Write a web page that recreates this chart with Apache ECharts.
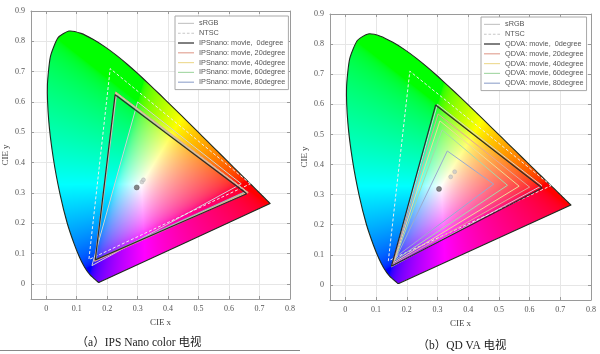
<!DOCTYPE html>
<html>
<head>
<meta charset="utf-8">
<script src="https://cdn.jsdelivr.net/npm/echarts@6/dist/echarts.min.js"></script>
<style>
html,body{margin:0;padding:0;background:#fff;}
#main{width:600px;height:354px;}
</style>
</head>
<body>
<div id="main"></div>
<script>
// CIE 1931 spectral locus (380..700 nm)
var locusX = [0.1741,0.1740,0.1738,0.1736,0.1733,0.1730,0.1726,0.1721,0.1714,0.1703,0.1689,0.1669,0.1644,0.1611,0.1566,0.1510,0.1440,0.1355,0.1241,0.1096,0.0913,0.0687,0.0454,0.0235,0.0082,0.0039,0.0139,0.0389,0.0743,0.1142,0.1547,0.1929,0.2296,0.2658,0.3016,0.3373,0.3731,0.4087,0.4441,0.4788,0.5125,0.5448,0.5752,0.6029,0.6270,0.6482,0.6658,0.6801,0.6915,0.7006,0.7079,0.7140,0.7190,0.7230,0.7260,0.7300,0.7320,0.7334,0.7347];
var locusY = [0.0050,0.0050,0.0049,0.0049,0.0048,0.0048,0.0048,0.0048,0.0051,0.0058,0.0069,0.0086,0.0109,0.0138,0.0177,0.0227,0.0297,0.0399,0.0578,0.0868,0.1327,0.2007,0.2950,0.4127,0.5384,0.6548,0.7502,0.8120,0.8338,0.8262,0.8059,0.7816,0.7543,0.7243,0.6923,0.6589,0.6245,0.5896,0.5547,0.5202,0.4866,0.4544,0.4242,0.3965,0.3725,0.3514,0.3340,0.3197,0.3083,0.2993,0.2920,0.2859,0.2809,0.2770,0.2740,0.2700,0.2680,0.2666,0.2653];

var srgbTri = [[0.64,0.33],[0.30,0.60],[0.15,0.06]];
var ntscTri = [[0.67,0.33],[0.21,0.71],[0.14,0.08]];

// IPS Nano color panel
var ips0  = [[0.658,0.297],[0.226,0.624],[0.161,0.079]];
var ips20 = [[0.663,0.301],[0.228,0.633],[0.159,0.074]];
var ips40 = [[0.661,0.302],[0.229,0.630],[0.160,0.076]];
var ips60 = [[0.658,0.304],[0.230,0.628],[0.161,0.077]];
var ips80 = [[0.655,0.305],[0.231,0.625],[0.163,0.080]];
var ipsWhite = [[0.297,0.318]];
var ipsWhiteOther = [[0.314,0.336],[0.319,0.343]];

// QD VA panel
var qd0  = [[0.641,0.322],[0.294,0.598],[0.150,0.062]];
var qd20 = [[0.600,0.325],[0.302,0.568],[0.154,0.068]];
var qd40 = [[0.566,0.328],[0.308,0.545],[0.157,0.074]];
var qd60 = [[0.528,0.331],[0.315,0.515],[0.161,0.082]];
var qd80 = [[0.483,0.335],[0.332,0.445],[0.168,0.096]];
var qdWhite = [[0.305,0.319]];
var qdWhiteOther = [[0.343,0.359],[0.356,0.376]];

var angleNames = [' 0degree','20degree','40degree','60degree','80degree'];
var angleColors = ['#2b2b2b','#e3a597','#eedc98','#a9d9a9','#9aaad0'];

var myChart;

function closeTri(t)
{
	return t.concat([t[0]]);
}

function gammaC(v)
{
	return v <= 0.0031308 ? 12.92 * v : 1.055 * Math.pow(v, 1 / 2.4) - 0.055;
}

function xyToRgb(x, y)
{
	if (y < 0.001) y = 0.001;
	var X = x / y, Y = 1, Z = (1 - x - y) / y;
	var r = 3.2406 * X - 1.5372 * Y - 0.4986 * Z;
	var g = -0.9689 * X + 1.8758 * Y + 0.0415 * Z;
	var b = 0.0557 * X - 0.2040 * Y + 1.0570 * Z;
	r = Math.max(r, 0); g = Math.max(g, 0); b = Math.max(b, 0);
	var m = Math.max(r, g, b) || 1;
	return [gammaC(r / m) * 255, gammaC(g / m) * 255, gammaC(b / m) * 255];
}

// colour texture the size of the chart, filled only inside the locus box
function renderLocus(params, api)
{
	var pts = [];
	var minX = 1e9, minY = 1e9, maxX = -1e9, maxY = -1e9;
	for (var i = 0; i < locusX.length; i++) {
		var p = api.coord([locusX[i], locusY[i]]);
		pts.push(p);
		minX = Math.min(minX, p[0]); maxX = Math.max(maxX, p[0]);
		minY = Math.min(minY, p[1]); maxY = Math.max(maxY, p[1]);
	}
	minX = Math.max(0, Math.floor(minX) - 2); minY = Math.max(0, Math.floor(minY) - 2);
	maxX = Math.ceil(maxX) + 2; maxY = Math.ceil(maxY) + 2;
	var W = api.getWidth(), H = api.getHeight();
	var o = api.coord([0, 0]), u = api.coord([1, 1]);
	var cv = document.createElement('canvas');
	cv.width = W; cv.height = H;
	var ctx = cv.getContext('2d');
	var img = ctx.createImageData(W, H);
	for (var py = minY; py < Math.min(H, maxY); py++) {
		for (var px = minX; px < Math.min(W, maxX); px++) {
			var dx = (px + 0.5 - o[0]) / (u[0] - o[0]);
			var dy = (py + 0.5 - o[1]) / (u[1] - o[1]);
			var c = xyToRgb(dx, dy);
			var k = (py * W + px) * 4;
			img.data[k] = c[0]; img.data[k + 1] = c[1]; img.data[k + 2] = c[2]; img.data[k + 3] = 255;
		}
	}
	ctx.putImageData(img, 0, 0);
	return {
		type: 'polygon',
		shape: {points: pts, smooth: 0.2},
		style: {fill: {image: cv, repeat: 'no-repeat'}, stroke: '#1f2a1f', lineWidth: 1.1}
	};
}

function tickFmt(v)
{
	if (v < -0.001) return '';
	return String(+v.toFixed(1));
}

var labelStyle = {color: '#555', fontFamily: 'Liberation Serif', fontSize: 8};
var nameStyle = {color: '#444', fontFamily: 'Liberation Serif', fontSize: 9};

function mainX(gi)
{
	return {
		gridIndex: gi, type: 'value', min: -0.05, max: 0.8, splitNumber: 9, minInterval: 0.1, maxInterval: 0.1,
		name: 'CIE x', nameLocation: 'middle', nameGap: 19, nameTextStyle: nameStyle,
		axisLine: {onZero: false, lineStyle: {color: '#9a9a9a'}},
		axisTick: {inside: true, length: 3, lineStyle: {color: '#9a9a9a'}},
		axisLabel: Object.assign({formatter: tickFmt, margin: 6}, labelStyle),
		splitLine: {lineStyle: {color: '#e6e6e6'}}
	};
}
function mainY(gi)
{
	return {
		gridIndex: gi, type: 'value', min: -0.05, max: 0.9, splitNumber: 10, minInterval: 0.1, maxInterval: 0.1,
		name: 'CIE y', nameLocation: 'middle', nameGap: 21, nameTextStyle: nameStyle,
		axisLine: {onZero: false, lineStyle: {color: '#9a9a9a'}},
		axisTick: {inside: true, length: 3, lineStyle: {color: '#9a9a9a'}},
		axisLabel: Object.assign({formatter: tickFmt, margin: 6}, labelStyle),
		splitLine: {lineStyle: {color: '#e6e6e6'}}
	};
}
function boxX(gi)
{
	return {
		gridIndex: gi, type: 'value', position: 'top', min: -0.05, max: 0.8, splitNumber: 9, minInterval: 0.1, maxInterval: 0.1,
		axisLine: {onZero: false, lineStyle: {color: '#9a9a9a'}},
		axisTick: {inside: true, length: 3, lineStyle: {color: '#9a9a9a'}},
		axisLabel: {show: false}, splitLine: {show: false}
	};
}
function boxY(gi)
{
	return {
		gridIndex: gi, type: 'value', position: 'right', min: -0.05, max: 0.9, splitNumber: 10, minInterval: 0.1, maxInterval: 0.1,
		axisLine: {onZero: false, lineStyle: {color: '#9a9a9a'}},
		axisTick: {inside: true, length: 3, lineStyle: {color: '#9a9a9a'}},
		axisLabel: {show: false}, splitLine: {show: false}
	};
}

function triLine(name, tri, axis, color, width, dashed, z)
{
	return {
		name: name, type: 'line', xAxisIndex: axis, yAxisIndex: axis,
		data: closeTri(tri), symbol: 'none', silent: true, z: z || 3,
		lineStyle: {color: color, width: width, type: dashed ? [3, 2] : 'solid'},
		itemStyle: {color: color}
	};
}

function panelSeries(axis, prefix, tris, white, whiteOther)
{
	var s = [];
	s.push({type: 'custom', xAxisIndex: axis, yAxisIndex: axis, data: [[0, 0]], renderItem: renderLocus, silent: true, z: 1});
	s.push(triLine('sRGB', srgbTri, axis, '#d2d2d2', 1, false, 2));
	s.push(triLine('NTSC', ntscTri, axis, '#eeeeee', 1, true, 2));
	for (var i = tris.length - 1; i >= 0; i--) {
		s.push(triLine(prefix + angleNames[i], tris[i], axis, angleColors[i], i == 0 ? 1.2 : 1, false, i == 0 ? 5 : 3));
	}
	s.push({type: 'scatter', xAxisIndex: axis, yAxisIndex: axis, data: whiteOther, symbolSize: 4, silent: true, z: 6,
		itemStyle: {color: '#c9c9c9', borderColor: '#aaa', borderWidth: 0.5}});
	s.push({type: 'scatter', xAxisIndex: axis, yAxisIndex: axis, data: white, symbolSize: 5, silent: true, z: 6,
		itemStyle: {color: '#6a6a6a', borderColor: '#444', borderWidth: 0.5}});
	return s;
}

var dashIcon = 'path://M0,0h3v1h-3zM5,0h3v1h-3zM10,0h3v1h-3zM15,0h3v1h-3z';

function legendFor(prefix, left, top)
{
	var names = [
		{name: 'sRGB', icon: 'rect', itemStyle: {color: '#c8c8c8'}},
		{name: 'NTSC', icon: dashIcon, itemStyle: {color: '#c8c8c8'}}
	];
	for (var i = 0; i < angleNames.length; i++) names.push({name: prefix + angleNames[i], icon: 'rect'});
	return {
		data: names, orient: 'vertical', left: left, top: top,
		itemWidth: 16, itemHeight: 1.2, itemGap: 1, padding: [3, 3, 3, 3],
		borderColor: '#a8a8a8', borderWidth: 1, backgroundColor: '#fff', borderRadius: 0,
		selectedMode: false,
		textStyle: {fontFamily: 'Liberation Sans', fontSize: 7.3, color: '#555', lineHeight: 8.8}
	};
}

function addEcharts(DomID)
{
	var dom = document.getElementById(DomID);
	myChart = echarts.init(dom, null, {renderer: 'canvas'});
	var option = {
		backgroundColor: '#fff',
		animation: false,
		grid: [
			{left: 31, top: 11, width: 259, height: 288},
			{left: 330, top: 14, width: 261, height: 286}
		],
		xAxis: [mainX(0), boxX(0), mainX(1), boxX(1)],
		yAxis: [mainY(0), boxY(0), mainY(1), boxY(1)],
		legend: [legendFor('IPSnano: movie, ', 175, 16), legendFor('QDVA: movie, ', 481, 17)],
		graphic: [
			{type: 'text', style: {text: '（a）IPS Nano color 电视', x: 139, y: 337, textAlign: 'center',
				font: '11.5px "Liberation Serif", "Noto Sans CJK SC"', fill: '#222'}},
			{type: 'text', style: {text: '（b）QD VA 电视', x: 462, y: 340, textAlign: 'center',
				font: '11.5px "Liberation Serif", "Noto Sans CJK SC"', fill: '#222'}},
			{type: 'line', shape: {x1: 0, y1: 350.5, x2: 300, y2: 350.5}, style: {stroke: '#888', lineWidth: 1}}
		],
		series: panelSeries(0, 'IPSnano: movie, ', [ips0, ips20, ips40, ips60, ips80], ipsWhite, ipsWhiteOther)
			.concat(panelSeries(2, 'QDVA: movie, ', [qd0, qd20, qd40, qd60, qd80], qdWhite, qdWhiteOther))
	};
	myChart.setOption(option);
}

addEcharts('main');
</script>
</body>
</html>
